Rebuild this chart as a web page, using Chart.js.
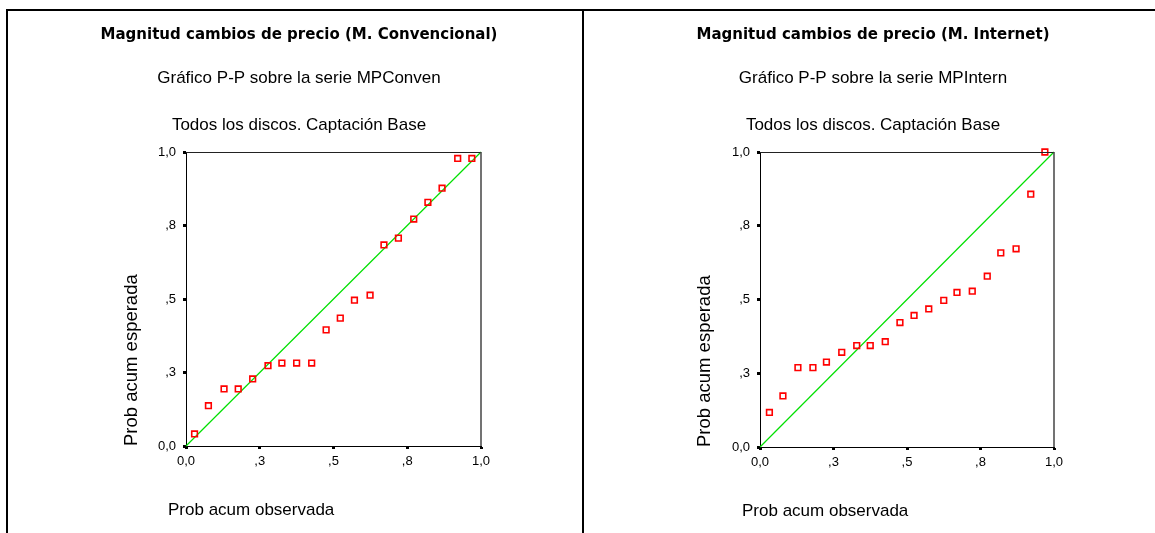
<!DOCTYPE html>
<html>
<head>
<meta charset="utf-8">
<script src="https://cdn.jsdelivr.net/npm/chart.js@4/dist/chart.umd.min.js"></script>
<style>
  html, body { margin: 0; padding: 0; background: #fff; }
  #frame {
    position: absolute; left: 6px; top: 9px; width: 1200px; height: 600px;
    border-top: 2px solid #000; border-left: 2px solid #000;
  }
  #left { position: absolute; left: 0; top: 0; }
  #right { position: absolute; left: 576px; top: 0; }
  #divider { position: absolute; left: 574px; top: 0; width: 2px; height: 600px; background: #000; }
</style>
</head>
<body>
<div id="frame">
  <canvas id="left" width="574" height="522"></canvas>
  <div id="divider"></div>
  <canvas id="right" width="571" height="522"></canvas>
</div>
<script>
// P-P plot data: observed vs expected cumulative probability
var convObs = [0.029, 0.076, 0.129, 0.177, 0.226, 0.278, 0.325, 0.375, 0.426, 0.475,
               0.523, 0.571, 0.624, 0.671, 0.720, 0.772, 0.820, 0.868, 0.921, 0.969];
var convExp = [0.041, 0.137, 0.194, 0.194, 0.228, 0.273, 0.282, 0.282, 0.282, 0.395,
               0.435, 0.496, 0.513, 0.684, 0.707, 0.772, 0.829, 0.877, 0.978, 0.978];

var internObs = [0.032, 0.078, 0.129, 0.180, 0.226, 0.278, 0.329, 0.375, 0.426, 0.476,
                 0.524, 0.574, 0.625, 0.670, 0.722, 0.773, 0.819, 0.871, 0.921, 0.969];
var internExp = [0.117, 0.173, 0.269, 0.269, 0.288, 0.321, 0.344, 0.344, 0.357, 0.422,
                 0.446, 0.468, 0.497, 0.524, 0.528, 0.579, 0.658, 0.672, 0.857, 1.000];

// reference diagonal
var diagonal = [0, 1];

var tickValues = [0, 0.25, 0.5, 0.75, 1];
var tickLabels = ['0,0', ',3', ',5', ',8', '1,0'];

var subtitle2 = 'Todos los discos. Captación Base';
var xTitle = 'Prob acum observada';
var yTitle = 'Prob acum esperada';

Chart.defaults.font.family = '"Liberation Sans", Arial, sans-serif';
Chart.defaults.color = '#000';

const toPoints = (xs, ys) => xs.map((x, i) => ({ x: x, y: ys[i] }));

// top/right frame lines and the x axis caption
const framePlugin = {
  id: 'frame',
  afterDraw(chart) {
    const a = chart.chartArea, ctx = chart.ctx;
    ctx.save();
    ctx.strokeStyle = '#222';
    ctx.lineWidth = 1;
    ctx.beginPath();
    ctx.moveTo(a.left, a.top + 0.5);
    ctx.lineTo(a.right, a.top + 0.5);
    ctx.stroke();
    ctx.strokeStyle = '#444';
    ctx.lineWidth = 1.5;
    ctx.beginPath();
    ctx.moveTo(a.right, a.top);
    ctx.lineTo(a.right, a.bottom);
    ctx.stroke();
    ctx.fillStyle = '#000';
    ctx.font = '17px "Liberation Sans", Arial, sans-serif';
    ctx.textAlign = 'left';
    ctx.textBaseline = 'middle';
    ctx.fillText(xTitle, a.left - 18, a.bottom + 64);
    ctx.restore();
  }
};

const axisTicks = {
  autoSkip: false,
  maxRotation: 0,
  font: { size: 13 },
  color: '#000',
  callback: (v, i) => tickLabels[i]
};

const makeChart = (id, title, sub1, obs, exp, box) => {
  return new Chart(document.getElementById(id), {
    type: 'scatter',
    data: {
      datasets: [{
        data: toPoints(obs, exp),
        pointStyle: 'rect',
        pointRadius: 4,
        pointBorderWidth: 1.6,
        borderColor: '#ff0000',
        backgroundColor: 'rgba(0,0,0,0)',
        clip: false
      }, {
        type: 'line',
        data: toPoints(diagonal, diagonal),
        borderColor: '#00e000',
        borderWidth: 1.2,
        pointRadius: 0,
        clip: false
      }]
    },
    options: {
      responsive: false,
      animation: false,
      layout: { padding: { left: box.padL, right: box.padR, top: 0, bottom: box.padB } },
      plugins: {
        legend: { display: false },
        tooltip: { enabled: false },
        title: {
          display: true,
          text: title,
          font: { family: '"DejaVu Sans", sans-serif', size: 15, weight: 'bold' },
          color: '#000',
          padding: { top: 15, bottom: 0 }
        },
        subtitle: {
          display: true,
          text: [sub1, subtitle2],
          font: { size: 17, lineHeight: 47 / 17 },
          color: '#000',
          padding: { top: 10.5, bottom: 3.5 }
        }
      },
      scales: {
        x: {
          type: 'linear',
          min: 0, max: 1,
          afterBuildTicks: s => { s.ticks = tickValues.map(v => ({ value: v })); },
          afterFit: s => { s.height = 30; },
          grid: { drawOnChartArea: false, drawTicks: true, tickLength: 3, tickWidth: 3, tickColor: '#000' },
          border: { color: '#000', width: 1 },
          ticks: Object.assign({ padding: 5 }, axisTicks)
        },
        y: {
          type: 'linear',
          min: 0, max: 1,
          afterBuildTicks: s => { s.ticks = tickValues.map(v => ({ value: v })); },
          afterFit: s => { s.width = box.yW; },
          grid: { drawOnChartArea: false, drawTicks: true, tickLength: 3, tickWidth: 3, tickColor: '#000' },
          border: { color: '#000', width: 1 },
          ticks: Object.assign({ padding: 7 }, axisTicks),
          title: {
            display: true,
            text: yTitle,
            align: 'start',
            font: { size: 18.5 },
            color: '#000',
            padding: { top: box.yTitlePad, bottom: 0 }
          }
        },
        // empty right-hand spacer so the title row can span the whole panel
        y2: {
          type: 'linear',
          position: 'right',
          min: 0, max: 1,
          afterFit: s => { s.width = box.y2W; },
          grid: { display: false },
          border: { display: false },
          ticks: { display: false }
        }
      }
    },
    plugins: [framePlugin]
  });
};

makeChart('left', 'Magnitud cambios de precio (M. Convencional)',
  'Gráfico P-P sobre la serie MPConven', convObs, convExp,
  { padL: 18, padR: 10, padB: 57, yW: 160, y2W: 91, yTitlePad: 94.9 });

makeChart('right', 'Magnitud cambios de precio (M. Internet)',
  'Gráfico P-P sobre la serie MPIntern', internObs, internExp,
  { padL: 17, padR: 10, padB: 56, yW: 159, y2W: 91, yTitlePad: 92.9 });
</script>
</body>
</html>
